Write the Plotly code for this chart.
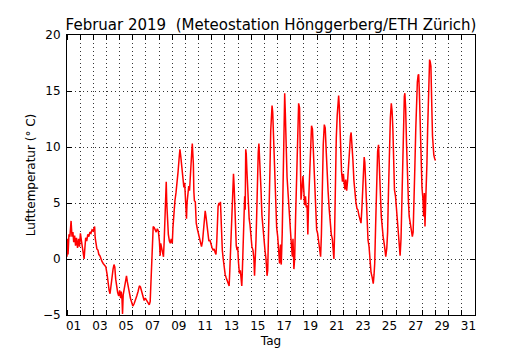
import plotly.graph_objects as go

# Zeit in Tagen seit 1. Februar 2019, 00:00
tag = [
    0.00, 0.04, 0.08, 0.15, 0.22, 0.31, 0.38, 0.45, 0.51, 0.58, 0.65, 0.72, 0.80, 0.88, 0.95,
    1.02, 1.10, 1.18, 1.25, 1.30, 1.36, 1.42, 1.50, 1.58, 1.66, 1.74, 1.82, 1.90, 1.98,
    2.06, 2.10, 2.14, 2.20, 2.27, 2.35, 2.42, 2.50, 2.57, 2.65, 2.75, 2.85, 2.95,
    3.05, 3.10, 3.20, 3.27, 3.35, 3.42, 3.50, 3.57, 3.63, 3.70, 3.77, 3.85, 3.93,
    4.00, 4.07, 4.12, 4.18, 4.22, 4.27, 4.33, 4.40, 4.47, 4.52, 4.58, 4.65, 4.74, 4.82, 4.90,
    5.00, 5.10, 5.20, 5.30, 5.40, 5.50, 5.58, 5.66, 5.76, 5.86, 5.95,
    6.05, 6.15, 6.25, 6.32, 6.37, 6.42, 6.48, 6.55, 6.63, 6.70, 6.78, 6.86, 6.94,
    7.02, 7.08, 7.12, 7.20, 7.28, 7.33, 7.38, 7.44, 7.50, 7.54, 7.58, 7.63, 7.70, 7.78, 7.85, 7.92,
    8.00, 8.05, 8.12, 8.20, 8.28, 8.36, 8.44, 8.52, 8.58, 8.64, 8.70, 8.76, 8.82, 8.88, 8.94,
    9.00, 9.04, 9.08, 9.12, 9.18, 9.25, 9.31, 9.36, 9.43, 9.48, 9.52, 9.56, 9.60, 9.64, 9.68,
    9.75, 9.82, 9.90, 9.97,
    10.05, 10.13, 10.22, 10.30, 10.36, 10.44, 10.50, 10.56, 10.62, 10.70, 10.78, 10.86, 10.94,
    11.02, 11.10, 11.18, 11.25, 11.32, 11.38, 11.43, 11.48, 11.55, 11.62, 11.66, 11.72, 11.80,
    11.87, 11.94,
    12.02, 12.10, 12.18, 12.25, 12.32, 12.37, 12.42, 12.48, 12.54, 12.60, 12.65, 12.70, 12.74,
    12.80, 12.86, 12.92, 12.97,
    13.03, 13.10, 13.17, 13.22, 13.28, 13.32, 13.37, 13.42, 13.47, 13.50, 13.54, 13.58, 13.62,
    13.67, 13.72, 13.78, 13.84, 13.90, 13.97,
    14.05, 14.13, 14.20, 14.25, 14.30, 14.36, 14.41, 14.46, 14.53, 14.58, 14.63, 14.68, 14.74,
    14.81, 14.89, 14.97,
    15.04, 15.12, 15.20, 15.25, 15.30, 15.35, 15.42, 15.48, 15.53, 15.58, 15.63, 15.70, 15.78,
    15.85, 15.93,
    16.01, 16.08, 16.15, 16.22, 16.28, 16.35, 16.42, 16.48, 16.54, 16.58, 16.65, 16.72, 16.80,
    16.88, 16.96,
    17.04, 17.12, 17.17, 17.24, 17.30, 17.37, 17.45, 17.52, 17.60, 17.67, 17.72, 17.78, 17.85,
    17.93,
    18.00, 18.05, 18.12, 18.18, 18.24, 18.30, 18.36, 18.44, 18.51, 18.58, 18.65, 18.72, 18.78,
    18.84, 18.90, 18.97,
    19.04, 19.12, 19.20, 19.27, 19.33, 19.40, 19.47, 19.55, 19.62, 19.70, 19.77, 19.84, 19.92,
    20.00, 20.08, 20.16, 20.24, 20.28, 20.33, 20.40, 20.46, 20.53, 20.60, 20.64, 20.69, 20.75,
    20.80, 20.86, 20.93,
    21.00, 21.06, 21.12, 21.18, 21.25, 21.32, 21.40, 21.47, 21.54, 21.59, 21.64, 21.72, 21.80,
    21.87, 21.95,
    22.03, 22.10, 22.18, 22.26, 22.34, 22.41, 22.48, 22.54, 22.58, 22.63, 22.68, 22.74, 22.80,
    22.87, 22.95,
    23.03, 23.10, 23.18, 23.27, 23.33, 23.38, 23.45, 23.52, 23.60, 23.67, 23.74, 23.80, 23.88,
    23.95,
    24.02, 24.12, 24.22, 24.30, 24.36, 24.43, 24.50, 24.57, 24.64, 24.70, 24.76, 24.82, 24.88,
    24.96,
    25.04, 25.13, 25.22, 25.31, 25.38, 25.45, 25.52, 25.58, 25.63, 25.67, 25.73, 25.80, 25.87,
    25.94,
    26.00, 26.07, 26.15, 26.24, 26.30, 26.37, 26.43, 26.50, 26.56, 26.62, 26.68, 26.72, 26.77,
    26.84, 26.90, 26.97,
    27.04, 27.10, 27.15, 27.20, 27.25, 27.30, 27.35, 27.40, 27.45, 27.50, 27.55, 27.60, 27.65,
    27.69, 27.73, 27.77, 27.82, 27.87, 27.93, 27.99,
]

# Lufttemperatur in °C
temperatur = [
    0.2, 1.8, 0.4, 2.2, 2.0, 3.4, 2.0, 2.4, 1.5, 2.1, 1.2, 1.9, 1.0, 1.8, 1.1,
    2.3, 1.6, 0.9, 0.2, 0.0, 1.0, 1.9, 1.6, 2.2, 2.0, 2.4, 2.3, 2.6, 2.5,
    2.8, 2.9, 1.9, 1.2, 0.9, 0.8, 0.4, 0.3, 0.0, -0.2, -0.4, -0.6, -0.7,
    -1.4, -2.0, -2.8, -3.1, -2.2, -1.4, -0.9, -0.5, -0.7, -1.8, -2.5, -3.0, -3.3,
    -2.8, -3.5, -2.9, -3.6, -4.9, -3.2, -2.8, -2.4, -1.7, -1.5, -2.0, -2.6, -3.0, -3.5, -3.9,
    -4.2, -4.0, -3.7, -3.3, -2.9, -2.4, -2.5, -2.8, -3.3, -3.7, -3.5,
    -3.7, -3.9, -4.1, -3.8, -2.1, 0.0, 1.8, 2.9, 2.8, 2.6, 2.4, 2.7, 2.5,
    1.6, 0.3, 1.4, 0.9, 0.6, 0.2, 1.5, 3.5, 6.0, 6.9, 5.0, 3.0, 2.2, 1.6, 1.4, 1.8,
    1.4, 2.8, 4.2, 5.2, 5.9, 6.6, 7.8, 9.0, 9.8, 9.2, 8.4, 7.5, 7.0, 6.4, 6.8,
    5.6, 4.6, 3.6, 5.0, 6.2, 6.5, 6.1, 7.6, 8.6, 9.6, 10.3, 9.6, 8.5, 6.0, 5.2,
    5.1, 3.2, 2.7, 2.3,
    2.0, 1.7, 1.1, 1.6, 2.6, 3.2, 4.3, 3.8, 3.0, 2.0, 1.6, 1.7, 1.2,
    1.0, 0.8, 0.9, 0.6, 0.4, 1.6, 3.0, 4.7, 5.0, 4.8, 5.1, 2.5, 0.8,
    0.0, -1.0,
    -1.4, -1.7, -1.9, -2.1, -2.4, -1.0, 0.5, 2.5, 4.5, 6.6, 7.6, 6.5, 5.0,
    2.8, 1.2, 0.8, 1.1,
    -0.3, -1.3, -1.0, -1.6, -2.4, -1.2, 0.2, 2.5, 4.5, 5.6, 4.4, 9.8, 9.4,
    7.9, 6.0, 4.4, 3.6, 3.1, 2.0,
    1.1, 0.8, 0.0, -1.5, -0.4, 1.7, 3.8, 7.1, 9.5, 10.3, 9.3, 7.8, 6.2,
    3.9, 2.6, 1.4,
    0.8, 0.0, -1.5, -1.0, 1.1, 3.8, 8.0, 11.5, 13.0, 13.7, 13.1, 10.5, 7.6,
    4.9, 2.8,
    2.0, 0.4, -0.4, 1.3, -0.5, 2.2, 6.5, 11.2, 14.8, 13.4, 10.0, 7.3, 5.8,
    4.0, 2.1,
    1.4, 0.2, 1.8, -0.9, 0.1, 3.8, 8.4, 11.8, 13.9, 13.5, 10.5, 5.3, 6.2,
    7.4,
    6.0, 4.8, 5.6, 4.6, 4.8, 2.2, 5.2, 8.2, 10.6, 11.9, 11.6, 9.6, 7.2,
    4.8, 3.4, 2.6,
    2.3, 1.4, 0.5, 0.2, 2.2, 6.5, 10.2, 12.0, 11.7, 9.5, 7.2, 6.0, 4.5,
    3.0, 2.2, 1.8, 0.4, 0.0, 2.2, 7.5, 10.8, 12.8, 14.2, 14.6, 13.6, 11.0,
    8.6, 7.8, 6.9,
    7.6, 6.8, 6.2, 7.1, 6.1, 7.0, 8.5, 10.3, 11.0, 11.3, 10.6, 8.9, 7.0,
    5.8, 5.1,
    4.5, 4.4, 3.9, 3.5, 3.2, 4.6, 6.5, 8.4, 9.1, 8.6, 7.2, 4.8, 3.0,
    1.7, 1.1,
    -0.3, -1.2, -1.6, -2.2, -1.4, -0.4, 3.0, 7.0, 9.6, 10.2, 8.6, 6.2, 3.8,
    2.8,
    2.0, 1.2, 0.2, 1.0, 2.4, 6.2, 10.0, 12.6, 13.9, 13.2, 11.6, 8.0, 6.2,
    5.6,
    4.3, 3.3, 2.1, 0.3, 1.8, 5.8, 9.6, 12.8, 14.5, 14.8, 13.5, 10.2, 7.0,
    5.2,
    3.8, 3.2, 2.6, 2.0, 2.4, 4.6, 8.2, 11.6, 14.3, 15.8, 16.4, 16.5, 15.0,
    11.2, 8.3, 6.4,
    5.4, 3.8, 5.9, 2.9, 5.0, 6.2, 8.6, 11.5, 13.2, 16.0, 17.8, 17.6, 17.2,
    15.8, 13.0, 11.0, 9.8, 9.3, 9.0, 8.8,
]

# Beschriftung der Tage (jeweils in der Tagesmitte)
tag_labels = ["%02d" % d for d in range(1, 32, 2)]
tag_label_pos = [d - 0.5 for d in range(1, 32, 2)]
tag_grenzen = list(range(0, 32))

FONT = "DejaVu Sans"
GRID = "#333333"

fig = go.Figure()
fig.add_trace(go.Scatter(
    x=tag, y=temperatur, mode="lines",
    line=dict(color="#ff0000", width=1.5),
    showlegend=False,
))

fig.update_layout(
    width=530, height=350,
    margin=dict(l=67, r=55, t=35, b=35),
    paper_bgcolor="white", plot_bgcolor="white",
    font=dict(family=FONT, size=12, color="black"),
    title=dict(
        text="Februar 2019  (Meteostation Hönggerberg/ETH Zürich)",
        x=0.5, xref="paper", xanchor="center",
        y=1, yref="paper", yanchor="bottom", pad=dict(b=5),
        font=dict(family=FONT, size=15, color="black"),
    ),
    xaxis=dict(
        range=[0, 31], automargin=False,
        tickmode="array", tickvals=tag_label_pos, ticktext=tag_labels,
        ticks="", showgrid=False, zeroline=False,
        showline=True, linecolor="black", linewidth=1, mirror="ticks",
        tickfont=dict(family=FONT, size=12),
        minor=dict(
            tickmode="array", tickvals=tag_grenzen,
            ticks="inside", ticklen=5, tickcolor="black", tickwidth=1,
            showgrid=True, gridcolor=GRID, gridwidth=1, griddash="1px,3px",
        ),
        title=dict(text="Tag", standoff=4, font=dict(family=FONT, size=12)),
    ),
    yaxis=dict(
        range=[-5, 20], automargin=False,
        tickmode="linear", tick0=-5, dtick=5,
        ticks="inside", ticklen=5, tickcolor="black", tickwidth=1,
        showgrid=True, gridcolor=GRID, gridwidth=1, griddash="1px,3px",
        zeroline=False,
        showline=True, linecolor="black", linewidth=1, mirror="ticks",
        tickfont=dict(family=FONT, size=12),
        ticklabelstandoff=3,
        title=dict(text="Lufttemperatur (° C)", standoff=4, font=dict(family=FONT, size=12)),
    ),
)

fig.write_html("out.html")
